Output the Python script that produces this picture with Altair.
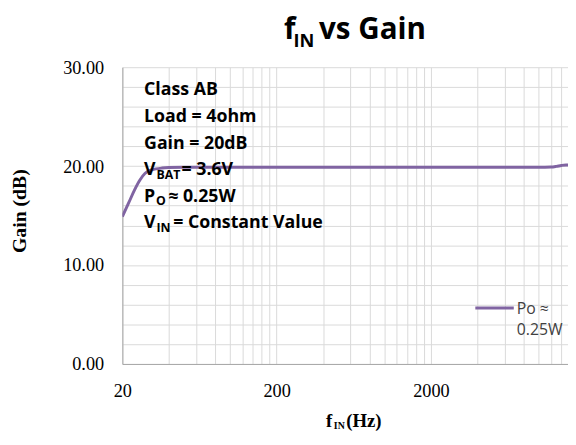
import altair as alt
import pandas as pd

# ---- data ----
freq_hz = [20, 22, 24, 26, 28, 30, 33, 36, 40, 50, 63, 80, 100, 200, 500,
           1000, 2000, 5000, 10000, 12000, 13000, 14000, 15000, 17000, 20000]
gain_db = [14.9, 16.3, 17.6, 18.6, 19.25, 19.55, 19.72, 19.8, 19.85, 19.88, 19.88,
           19.88, 19.88, 19.88, 19.88, 19.88, 19.88, 19.88, 19.88, 19.9, 19.97,
           20.07, 20.12, 20.12, 20.12]
x_grid = [20, 40, 60, 80, 100, 120, 140, 160, 180,
          200, 400, 600, 800, 1000, 1200, 1400, 1600, 1800,
          2000, 4000, 6000, 8000, 10000, 12000, 14000]
x_labels = [20, 200, 2000]
y_grid = list(range(0, 31, 2))
series_name = ["Po ≈", "0.25W"]
notes = ["Class AB", "Load = 4ohm", "Gain = 20dB"]

df = pd.DataFrame({"f": freq_hz, "g": gain_db})

PURPLE = "#8064A2"
W, H = 452, 301
XMAX = 15460
SANS = "Open Sans"
SERIF = "Liberation Serif"


def txt(s, x, y, size, weight="normal", font=SANS, color="#000000",
        angle=0, align="left", baseline="alphabetic"):
    return alt.Chart(alt.InlineData(values=[{"t": s}])).mark_text(
        align=align, baseline=baseline, font=font, fontSize=size,
        fontWeight=weight, color=color, angle=angle
    ).encode(x=alt.value(x), y=alt.value(y), text="t:N")


label_test = " || ".join(f"datum.value == {v}" for v in x_labels)

line = alt.Chart(df).mark_line(
    color=PURPLE, strokeWidth=3, clip=True, interpolate="monotone"
).encode(
    x=alt.X("f:Q", scale=alt.Scale(type="log", domain=[20, XMAX], nice=False),
            axis=alt.Axis(values=x_grid, labelExpr=f"({label_test}) ? '' + datum.value : ''",
                          ticks=False, domainColor="#a6a6a6", gridColor="#d9d9d9",
                          labelFont=SERIF, labelFontSize=18.5, labelColor="#000000",
                          labelPadding=18, labelFlush=False, labelOverlap=False,
                          labelBound=False, title=None)),
    y=alt.Y("g:Q", scale=alt.Scale(domain=[0, 30], nice=False),
            axis=alt.Axis(values=y_grid,
                          labelExpr="datum.value % 10 == 0 ? format(datum.value, '.2f') : ''",
                          ticks=False, domainColor="#a6a6a6", gridColor="#d9d9d9",
                          labelFont=SERIF, labelFontSize=18.5, labelColor="#000000",
                          labelPadding=19, labelOverlap=False, title=None)),
)

layers = [line]

# title f_IN vs Gain
layers += [
    txt("f", 288 - 124, -28.3, 30, "bold"),
    txt("IN", 297.5 - 124, -20.5, 18.5, "bold"),
    txt("vs Gain", 323.5 - 124, -28.3, 30, "bold"),
]

# annotations
NS = 18
bx = 146 - 124
base = [93.5, 120.5, 147.5, 174.5, 201.5, 228.5]
base = [b - 65 for b in base]
for s, b in zip(notes, base[:3]):
    layers.append(txt(s, bx, b, NS, "bold"))
layers += [
    txt("V", bx, base[3], NS, "bold"),
    txt("BAT", 158.5 - 124, base[3] + 3.6, 12.5, "bold"),
    txt("= 3.6V", 184 - 124, base[3], NS, "bold"),
    txt("P", bx, base[4], NS, "bold"),
    txt("O", 158 - 124, base[4] + 3.4, 12.5, "bold"),
    txt("≈ 0.25W", 170.5 - 124, base[4], NS, "bold"),
    txt("V", bx, base[5], NS, "bold"),
    txt("IN", 158.5 - 124, base[5] + 3.2, 12.5, "bold"),
    txt("= Constant Value", 175.5 - 124, base[5], NS, "bold"),
]

# legend
legend_line = alt.Chart(alt.InlineData(values=[{"k": series_name[0]}])).mark_rule(
    color=PURPLE, strokeWidth=3
).encode(x=alt.value(482 - 124), x2=alt.value(521 - 124), y=alt.value(309.3 - 65))
layers += [
    legend_line,
    txt(series_name[0], 524 - 124, 310 - 65, 16, color="#404040", baseline="middle"),
    txt(series_name[1], 524 - 124, 331.7 - 65, 16, color="#404040", baseline="middle"),
]

# axis titles
layers += [
    txt("Gain (dB)", 20 - 124, 211 - 65, 20, "bold", font=SERIF,
        angle=270, align="center", baseline="middle"),
    txt("f", 330.5 - 124, 430 - 65, 19, "bold", font=SERIF),
    txt("IN", 338.5 - 124, 431.5 - 65, 10, "bold", font=SERIF),
    txt("(Hz)", 351 - 124, 430 - 65, 19, "bold", font=SERIF),
]

chart = alt.layer(*layers).properties(
    width=W, height=H,
    autosize=alt.AutoSizeParams(type="none"),
    padding={"left": 116, "top": 57, "right": 0, "bottom": 67},
    background="#ffffff",
).configure_view(strokeWidth=0)

chart.save("out.html", embed_options={"renderer": "svg", "actions": False})
